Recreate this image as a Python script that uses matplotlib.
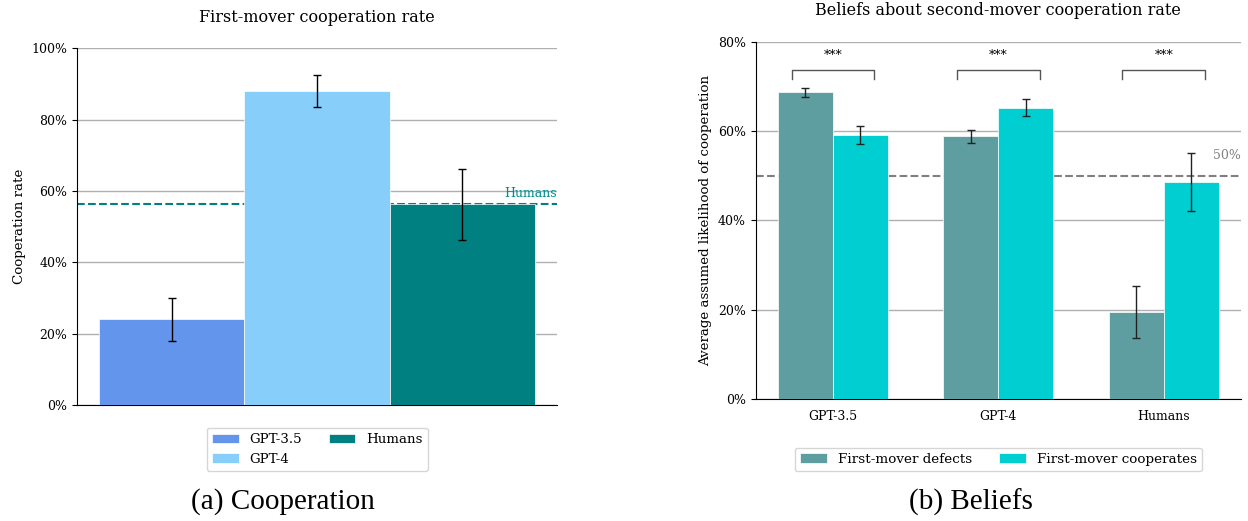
import matplotlib
matplotlib.use("Agg")
import matplotlib.pyplot as plt
import numpy as np
from matplotlib.ticker import PercentFormatter

plt.rcParams['font.family'] = ['DejaVu Serif']

# data
models = ["GPT-3.5", "GPT-4", "Humans"]
coop_rate = [0.241, 0.880, 0.564]
coop_lo = [0.180, 0.835, 0.463]
coop_hi = [0.300, 0.924, 0.661]
coop_colors = ["cornflowerblue", "lightskyblue", "teal"]

belief_defects = [0.687, 0.588, 0.195]
defects_lo = [0.676, 0.573, 0.137]
defects_hi = [0.697, 0.603, 0.253]
belief_coops = [0.591, 0.652, 0.485]
coops_lo = [0.571, 0.633, 0.421]
coops_hi = [0.611, 0.672, 0.550]
signif = ["***", "***", "***"]

fig = plt.figure(figsize=(12.48, 5.21), dpi=100)

# (a) cooperation
ax1 = fig.add_axes([0.0619, 0.2221, 0.3844, 0.6852])
x = np.arange(len(models))
err1 = [np.array(coop_rate) - np.array(coop_lo), np.array(coop_hi) - np.array(coop_rate)]
bars = ax1.bar(x, coop_rate, width=1.0, color=coop_colors, edgecolor="white",
               linewidth=0.5, zorder=3)
ax1.errorbar(x, coop_rate, yerr=err1, fmt="none", ecolor="black", elinewidth=1,
             capsize=3, capthick=1, zorder=4)
ax1.axhline(coop_rate[2], color="teal", ls="--", lw=1.5, zorder=2)
ax1.text(1.0, coop_rate[2] + 0.01, "Humans", transform=ax1.get_yaxis_transform(),
         ha="right", va="bottom", color="darkcyan", fontsize=9)
ax1.set_ylim(0, 1.0)
ax1.set_yticks(np.arange(0, 1.01, 0.2))
ax1.yaxis.set_major_formatter(PercentFormatter(1.0, decimals=0))
ax1.set_xticks([])
ax1.grid(axis="y", color="#b0b0b0", lw=1)
ax1.set_axisbelow(True)
for s in ["top", "right"]:
    ax1.spines[s].set_visible(False)
ax1.tick_params(axis="y", labelsize=9)
ax1.set_ylabel("Cooperation rate", fontsize=9.6)
ax1.set_title("First-mover cooperation rate", fontsize=11.5, pad=19)
for b, m in zip(bars, models):
    b.set_label(m)
ax1.legend(handles=list(bars), loc="upper center", bbox_to_anchor=(0.5, -0.044),
           ncol=2, fontsize=9.6, edgecolor="#cccccc")

# (b) beliefs
ax2 = fig.add_axes([0.6056, 0.2336, 0.3888, 0.6864])
w = 0.333
err_d = [np.array(belief_defects) - np.array(defects_lo), np.array(defects_hi) - np.array(belief_defects)]
err_c = [np.array(belief_coops) - np.array(coops_lo), np.array(coops_hi) - np.array(belief_coops)]
ax2.bar(x - w / 2, belief_defects, width=w, color="cadetblue", edgecolor="white",
        linewidth=0.5, zorder=3, label="First-mover defects")
ax2.bar(x + w / 2, belief_coops, width=w, color="darkturquoise", edgecolor="white",
        linewidth=0.5, zorder=3, label="First-mover cooperates")
ax2.errorbar(x - w / 2, belief_defects, yerr=err_d, fmt="none", ecolor="#222222",
             elinewidth=1, capsize=3, capthick=1, zorder=4)
ax2.errorbar(x + w / 2, belief_coops, yerr=err_c, fmt="none", ecolor="#222222",
             elinewidth=1, capsize=3, capthick=1, zorder=4)
ax2.axhline(0.5, color="gray", ls="--", lw=1.5, zorder=2)
ax2.text(0.999, 0.53, "50%", transform=ax2.get_yaxis_transform(), ha="right",
         va="bottom", color="gray", fontsize=9)

# significance brackets
for xi, s in zip(x, signif):
    ax2.plot([xi - 0.25, xi - 0.25, xi + 0.25, xi + 0.25], [0.717, 0.737, 0.737, 0.717],
             color="#555555", lw=1)
    ax2.text(xi, 0.768, s, ha="center", va="center", fontsize=9)

ax2.set_ylim(0, 0.8)
ax2.set_yticks(np.arange(0, 0.81, 0.2))
ax2.yaxis.set_major_formatter(PercentFormatter(1.0, decimals=0))
ax2.set_xticks(x)
ax2.set_xticklabels(models)
ax2.tick_params(axis="x", length=0, pad=8, labelsize=9)
ax2.tick_params(axis="y", labelsize=9)
ax2.grid(axis="y", color="#b0b0b0", lw=1)
ax2.set_axisbelow(True)
for s in ["top", "right"]:
    ax2.spines[s].set_visible(False)
ax2.set_ylabel("Average assumed likelihood of cooperation", fontsize=9.6)
ax2.set_title("Beliefs about second-mover cooperation rate", fontsize=11.5, pad=19)
ax2.legend(loc="upper center", bbox_to_anchor=(0.5, -0.116), ncol=2, fontsize=9.7,
           edgecolor="#cccccc")

# captions
fig.text(283 / 1248, 1 - 502 / 521, "(a) Cooperation", ha="center", va="center",
         fontsize=21, family="Liberation Serif")
fig.text(971 / 1248, 1 - 502 / 521, "(b) Beliefs", ha="center", va="center",
         fontsize=21, family="Liberation Serif")

fig.savefig("out.png", dpi=100)
